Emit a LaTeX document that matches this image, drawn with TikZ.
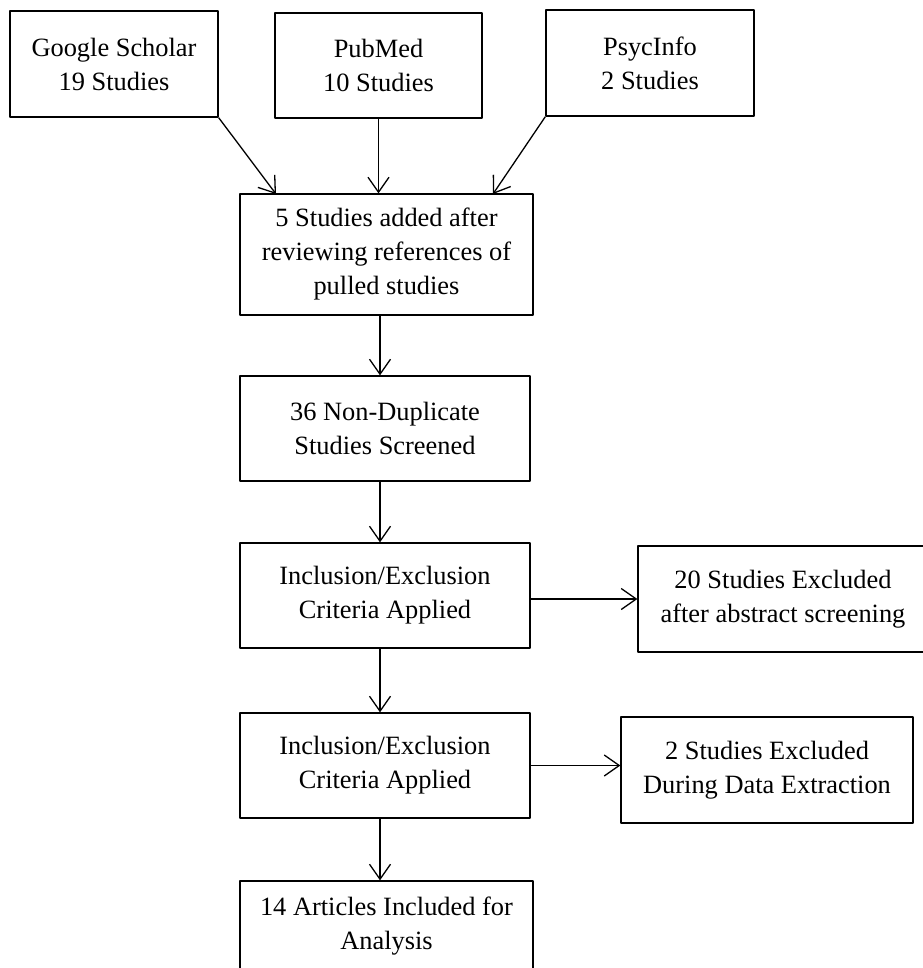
\documentclass[tikz,border=0pt]{standalone}
\usepackage{fontspec}
\setmainfont{Liberation Serif}
\usepackage{tikz}
\usetikzlibrary{arrows.meta,calc}

\tikzset{
  flowbox/.style={draw, line width=0.65pt, align=center, inner sep=0pt,
    font=\fontsize{13.2}{17}\selectfont},
  flowarrow/.style={->, line width=0.65pt}
}

\begin{document}
\begin{tikzpicture}[x=0.5pt, y=-0.5pt, >={Straight Barb[length=7.5pt,width=10.5pt]}, line join=round]
  \useasboundingbox (0,0) rectangle (922,968);
  \node[flowbox, minimum width=104pt, minimum height=53pt] (gs) at (114,64) {Google Scholar\\19 Studies};
  \node[flowbox, minimum width=103.5pt, minimum height=52.5pt] (pm) at (378.5,65.5) {PubMed\\10 Studies};
  \node[flowbox, minimum width=104pt, minimum height=53pt] (pi) at (650,63) {PsycInfo\\2 Studies};
  \node[flowbox, minimum width=146.5pt, minimum height=60.5pt] (add) at (386.5,254.5) {5 Studies added after\\reviewing references of\\pulled studies};
  \node[flowbox, minimum width=145pt, minimum height=52.5pt] (nd) at (385,428.5) {36 Non-Duplicate\\Studies Screened};
  \node[flowbox, minimum width=145pt, minimum height=52.5pt] (ic1) at (385,595.5) {Inclusion/Exclusion\\Criteria Applied};
  \node[flowbox, minimum width=145pt, minimum height=53pt] (ex1) at (783,599) {20 Studies Excluded\\after abstract screening};
  \node[flowbox, minimum width=145pt, minimum height=52.5pt] (ic2) at (385,765.5) {Inclusion/Exclusion\\Criteria Applied};
  \node[flowbox, minimum width=146pt, minimum height=53pt] (ex2) at (767,770) {2 Studies Excluded\\During Data Extraction};
  \node[flowbox, minimum width=146.5pt, minimum height=45pt] (fin) at (386.5,926) {14 Articles Included for\\Analysis};
  \coordinate (addL) at (276,194);
  \coordinate (addR) at (493,194);
  \coordinate (spine) at (380,0);
  \draw[flowarrow] (gs.south east) -- (addL);
  \draw[flowarrow] (pm.south) -- (pm.south |- add.north);
  \draw[flowarrow] (pi.south west) -- (addR);
  \draw[flowarrow] (add.south -| spine) -- (nd.north -| spine);
  \draw[flowarrow] (nd.south -| spine) -- (ic1.north -| spine);
  \draw[flowarrow] (ic1.east |- ex1.west) -- (ex1.west);
  \draw[flowarrow] (ic1.south -| spine) -- (ic2.north -| spine);
  \draw[flowarrow] (ic2.east) -- (ic2.east -| ex2.west);
  \draw[flowarrow] (ic2.south -| spine) -- (fin.north -| spine);
\end{tikzpicture}
\end{document}
